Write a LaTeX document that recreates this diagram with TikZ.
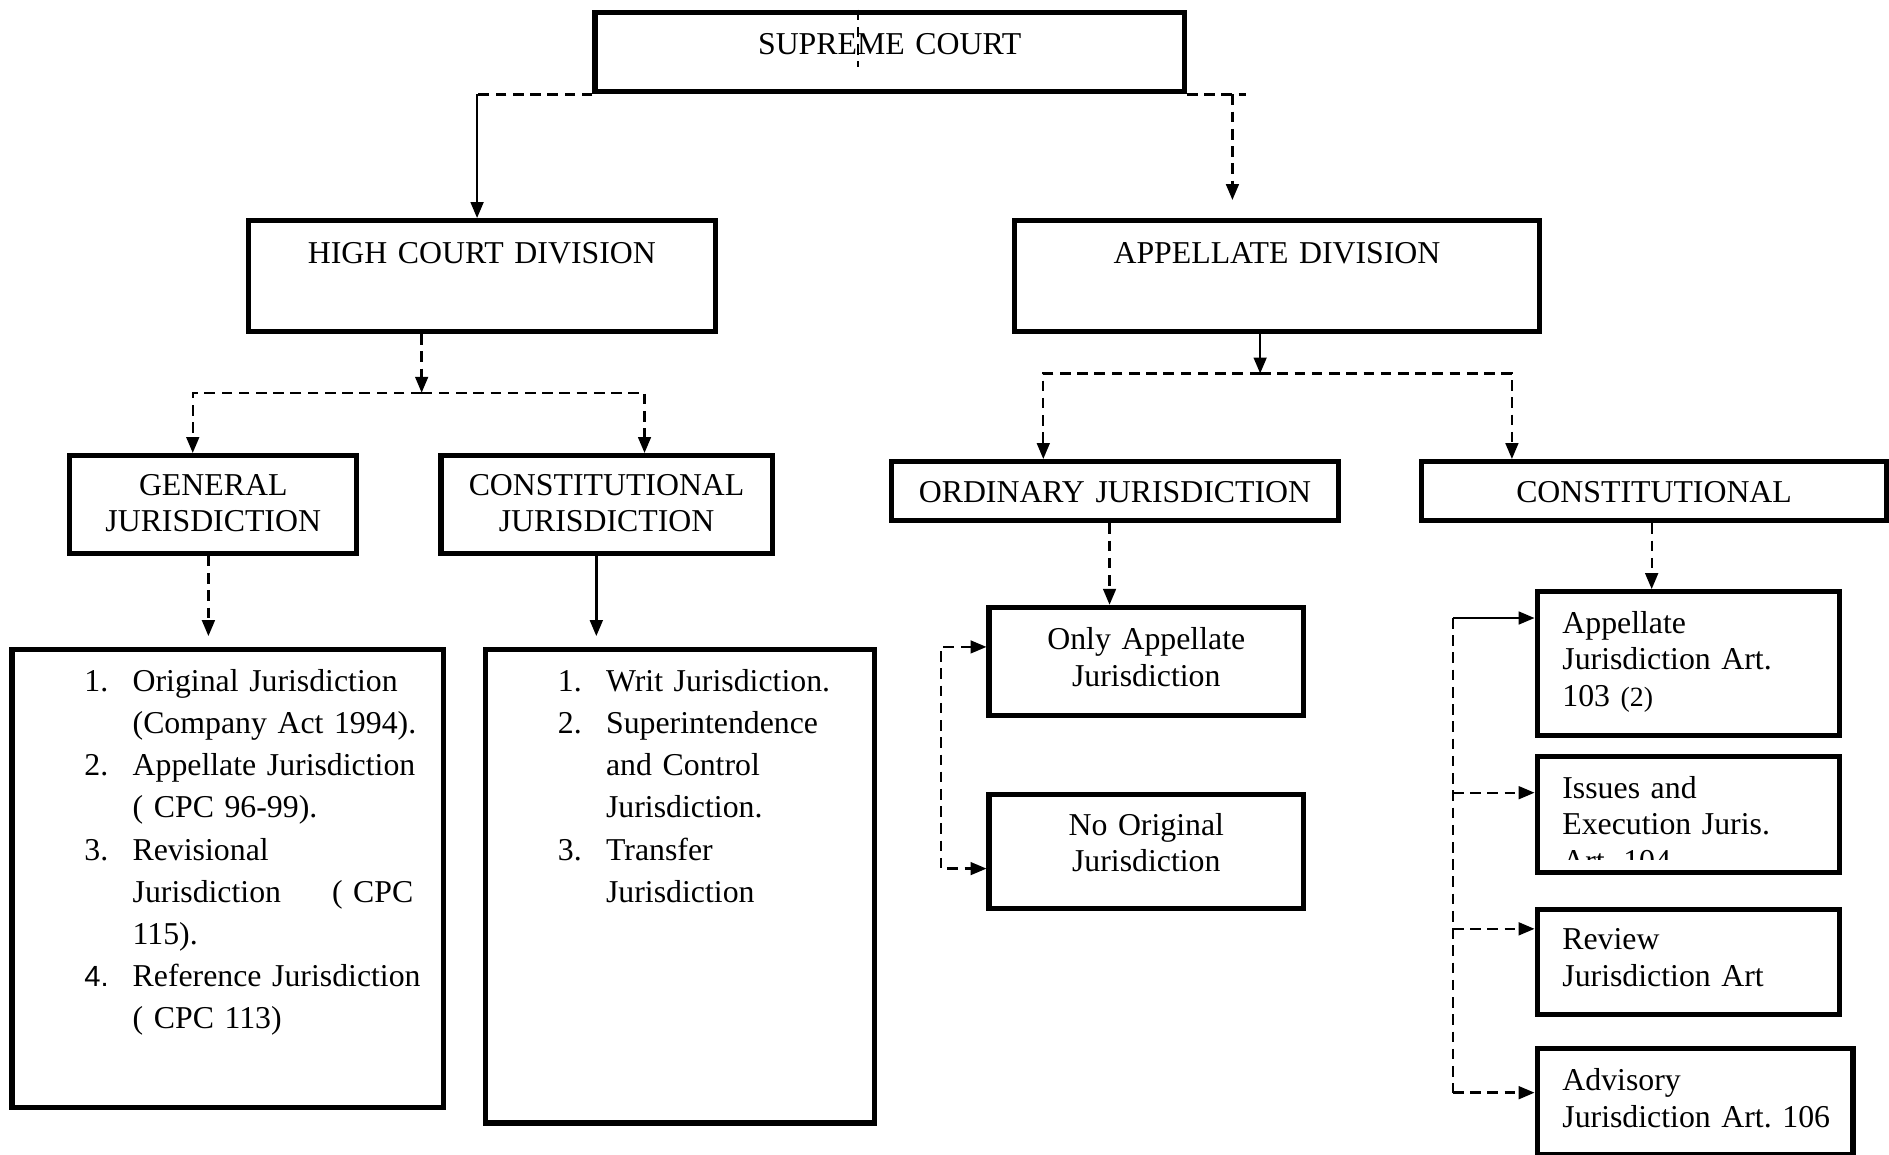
\documentclass[tikz,border=0pt]{standalone}
\usepackage{fontspec}
\setmainfont{Liberation Serif}
\newfontfamily\arialfont{Liberation Sans}
\usetikzlibrary{positioning,arrows.meta,calc}
\tikzset{
box/.style={
  draw, line width=2pt, inner sep=0pt, anchor=north,
  align=center,
  font=\fontsize{12}{13.8}\selectfont
},
lbox/.style={box, align=left, inner xsep=9.5pt},
listbox/.style={box, align=left, font=\fontsize{12}{15.9}\selectfont},
sline/.style={line width=0.9pt},
dline/.style={line width=0.9pt, dash pattern=on 4pt off 2.5pt},
>={Triangle[length=6pt,width=4.8pt]},
}
\begin{document}
\begin{tikzpicture}[x=0.4545pt, y=-0.4545pt]
\useasboundingbox (0,0) rectangle (1568,958);

\node[box, text width=222.3pt, text height=15.8pt, text depth=14.2pt] (sc) at (738.5,8) {SUPREME COURT};
\node[box, text width=176.3pt, text height=16.3pt, text depth=25.5pt] (hcd) at (400,181) {HIGH COURT DIVISION};
\node[box, text width=198.2pt, text height=16.3pt, text depth=25.5pt] (ad) at (1060,181) {APPELLATE DIVISION};

\node[box, text width=108.2pt, text height=14.9pt, text depth=21.9pt] (gj) at (177,376) {GENERAL\\JURISDICTION};
\node[box, text width=125pt, text height=14.9pt, text depth=21.9pt] (cj) at (503.5,376) {CONSTITUTIONAL\\JURISDICTION};
\node[box, text width=168.6pt, text height=15.6pt, text depth=6.7pt] (oj) at (925.5,381) {ORDINARY JURISDICTION};
\node[box, text width=175.4pt, text height=15.4pt, text depth=6.9pt] (co) at (1373,381) {CONSTITUTIONAL};

\node[listbox, text width=162.7pt, text height=15.8pt, text depth=156.9pt] (gl) at (189,537) {\hspace*{27.3pt}\begin{tabular}[t]{@{}p{18.2pt}@{}l@{}}
1. & Original Jurisdiction\\
   & (Company Act 1994).\\
2. & Appellate Jurisdiction\\
   & ( CPC 96-99).\\
3. & Revisional\\
   & Jurisdiction\hspace{1.6em}( CPC\\
   & 115).\\
{\arialfont\fontsize{11}{15.9}\selectfont 4.} & Reference Jurisdiction\\
   & ( CPC 113)
\end{tabular}};
\node[listbox, text width=146.8pt, text height=15.8pt, text depth=162.8pt] (cl) at (564.5,537) {\hspace*{27.3pt}\begin{tabular}[t]{@{}p{18.2pt}@{}l@{}}
1. & Writ Jurisdiction.\\
2. & Superintendence\\
   & and Control\\
   & Jurisdiction.\\
3. & Transfer\\
   & Jurisdiction
\end{tabular}};

\node[box, text width=118.6pt, text height=15.9pt, text depth=25pt] (oa) at (951.5,502) {Only Appellate\\Jurisdiction};
\node[box, text width=118.6pt, text height=15.5pt, text depth=27.7pt] (no) at (951.5,657) {No Original\\Jurisdiction};

\node[lbox, text width=95.1pt, text height=15.6pt, text depth=38.5pt] (app) at (1401.5,489) {Appellate\\Jurisdiction Art.\\103 {\fontsize{10.5}{13.8}\selectfont(2)}};
\node[lbox, text width=95.1pt, text height=15.6pt, text depth=28.1pt] (iss) at (1401.5,626) {};
\begin{scope}
\clip (iss.north west) rectangle ([yshift=6pt]iss.south east);
\node[lbox, draw=none, text width=95.1pt, text height=15.6pt, text depth=28.1pt] (isstxt) at (iss.north) {Issues and\\Execution Juris.\\Art.\ 104};
\end{scope}
\node[lbox, text width=95.1pt, text height=15.1pt, text depth=24.4pt] (rev) at (1401.5,753) {Review\\Jurisdiction Art};
\node[lbox, inner xsep=6.5pt, text width=106.1pt, text height=16pt, text depth=24pt] (adv) at (1407,868) {\hspace*{3pt}Advisory\\\hspace*{3pt}Jurisdiction Art.\ 106};

\draw[dline] (sc.north -| 712,0) -- ++(0,48);
\coordinate (scl) at (sc.south west -| 396,0);
\draw[dline] (sc.south west) -- (scl);
\draw[sline,->] (scl) -- (scl |- hcd.north);
\coordinate (scr) at (sc.south east -| 1023,0);
\draw[dline] (sc.south east) -- ++(49,0);
\draw[dline,->] (scr) -- (1023,166);

\coordinate (hj) at (350,326);
\draw[dline,->] (hcd.south -| hj) -- (hj);
\draw[dline,->] (hj) -| (gj.north -| 160,0);
\draw[dline,->] (hj) -| (cj.north -| 535,0);
\coordinate (glin) at (173,528);
\draw[dline,->] (gj.south -| glin) -- (glin);
\coordinate (clin) at (495,528);
\draw[sline,->] (cj.south -| clin) -- (clin);

\coordinate (aj) at (1046,310);
\draw[sline,->] (ad.south -| aj) -- (aj);
\draw[dline,->] (aj) -| (oj.north -| 866,0);
\draw[dline,->] (aj) -| (co.north -| 1255,0);
\draw[dline,->] (oj.south -| 921,0) -- (oa.north -| 921,0);
\coordinate (ob) at (781,629);
\draw[dline,<->] (oa.west |- 0,537) -| (ob) |- (no.west |- 0,721);

\draw[dline,->] (co.south -| 1371,0) -- (app.north -| 1371,0);
\coordinate (cb) at (1206,513);
\draw[sline,->] (cb) -- (app.west |- cb);
\draw[dline] (cb) -- ++(0,394);
\draw[dline,->] (cb |- 0,658) -- (iss.west |- 0,658);
\draw[dline,->] (cb |- 0,771) -- (rev.west |- 0,771);
\draw[dline,->] (cb |- 0,907) -- (adv.west |- 0,907);
\end{tikzpicture}
\end{document}
